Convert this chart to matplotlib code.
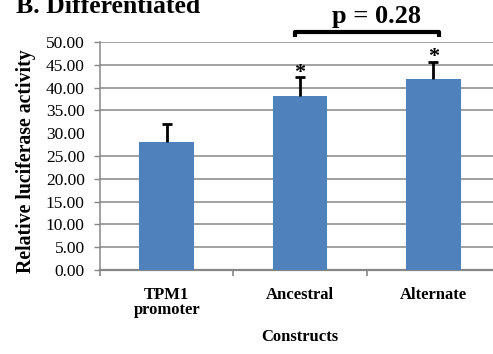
import matplotlib
matplotlib.use("Agg")
import matplotlib.pyplot as plt

# Luciferase assay, differentiated cells
categories = ["TPM1\npromoter", "Ancestral", "Alternate"]
activity = [28.0, 38.2, 41.9]
errors = [4.0, 4.1, 3.8]
significant = [False, True, True]
y_ticks = [0, 5, 10, 15, 20, 25, 30, 35, 40, 45, 50]
p_label = "p = 0.28"

plt.rcParams["font.family"] = ["Liberation Serif", "DejaVu Serif"]

W, H = 493, 354
fig = plt.figure(figsize=(W / 100, H / 100), dpi=100)
ax = fig.add_axes([100 / W, 1 - 270 / H, 400 / W, 228 / H])

bar_color = "#4F81BD"
grid_color = "#878787"

x = list(range(len(categories)))
ax.bar(x, activity, width=0.41, color=bar_color, zorder=3)
# plus-only error bars: hide the cap at the bar top
_, caps, _ = ax.errorbar(x, activity, yerr=[[0] * len(errors), errors], fmt="none",
                         ecolor="black", elinewidth=2, capsize=3.3, capthick=2,
                         zorder=4)
caps[0].set_visible(False)

ax.set_xlim(-0.5, 2.5)
ax.set_ylim(0, 50)
ax.set_yticks(y_ticks)
ax.set_yticklabels([f"{v:.2f}" for v in y_ticks], fontsize=12.5)
ax.set_xticks(x)
ax.set_xticklabels(categories, fontsize=12, fontweight="bold", linespacing=0.95)
ax.set_xticks([-0.5, 0.5, 1.5, 2.5], minor=True)

ax.tick_params(axis="y", length=4, width=1, color=grid_color, pad=7)
ax.tick_params(axis="x", which="major", length=0, pad=12)
ax.tick_params(axis="x", which="minor", length=4, width=1.2, color=grid_color)

ax.yaxis.grid(True, color=grid_color, linewidth=1.1, zorder=0)
ax.set_axisbelow(True)
# the 30.00 level carries no rule or tick mark
t30 = ax.yaxis.get_major_ticks()[y_ticks.index(30)]
t30.gridline.set_visible(False)
t30.tick1line.set_visible(False)

for side in ("top", "right"):
    ax.spines[side].set_visible(False)
ax.spines["left"].set_color(grid_color)
ax.spines["left"].set_linewidth(1.1)
ax.spines["bottom"].set_color(grid_color)
ax.spines["bottom"].set_linewidth(1.6)

ax.set_ylabel("Relative luciferase activity", fontsize=14.2, fontweight="bold",
              va="center")
ax.yaxis.set_label_coords(-0.185, 0.476)
ax.set_xlabel("Constructs", fontsize=12, fontweight="bold", labelpad=8)

# significance stars above the error bars
for xi, v, e, sig in zip(x, activity, errors, significant):
    if sig:
        ax.text(xi, v + e + 1.0, "*", ha="center", va="center", fontsize=16,
                fontweight="bold", clip_on=False, zorder=5)

# comparison bracket between the two variant constructs
bx0, bx1, by, leg = 0.96, 2.04, 52.3, 1.1
ax.plot([bx0, bx0, bx1, bx1], [by - leg, by, by, by - leg], color="black",
        linewidth=3, solid_joinstyle="round", solid_capstyle="butt", clip_on=False)
ax.text(1.57, by + 1.9, p_label, ha="center", va="baseline", fontsize=19,
        fontweight="bold", clip_on=False)

fig.text(16 / W, 1 - 13 / H, "B. Differentiated", ha="left", va="baseline",
         fontsize=18.5, fontweight="bold")

fig.savefig("out.png", dpi=100)
